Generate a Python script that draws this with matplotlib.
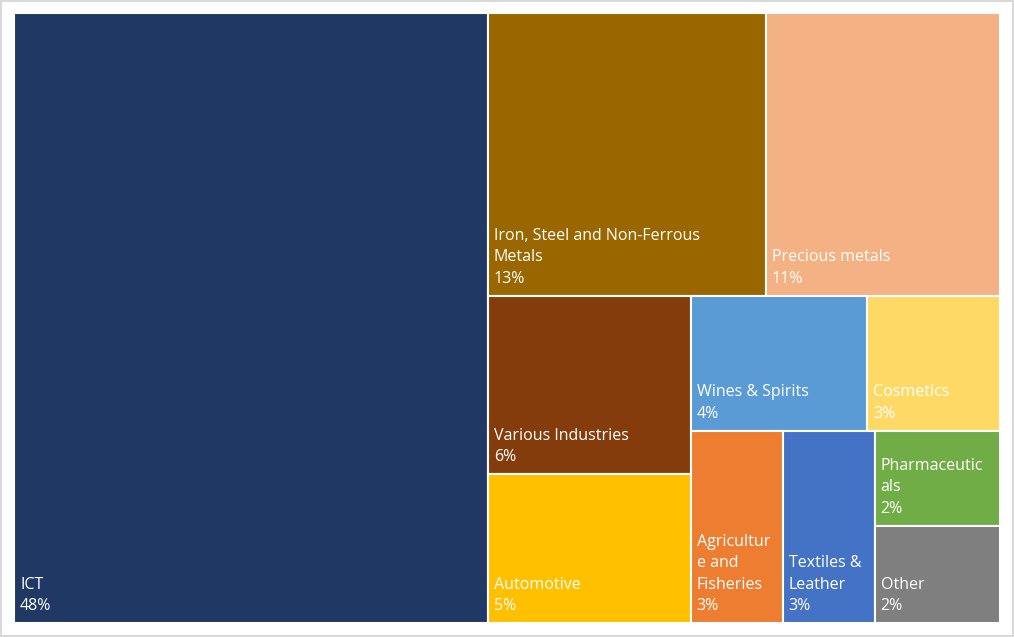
import matplotlib.pyplot as plt
from matplotlib.patches import Rectangle

# sector shares
sectors = ["ICT", "Iron, Steel and Non-Ferrous\nMetals", "Precious metals",
           "Various Industries", "Automotive", "Wines & Spirits", "Cosmetics",
           "Agricultur\ne and\nFisheries", "Textiles &\nLeather",
           "Pharmaceutic\nals", "Other"]
values = [47.4, 12.9, 10.85, 5.95, 4.95, 3.9, 2.95, 2.9, 2.9, 1.95, 2.0]
colors = ["#203864", "#996600", "#F4B183", "#843C0C", "#FFC000", "#5B9BD5",
          "#FFD966", "#ED7D31", "#4472C4", "#70AD47", "#7F7F7F"]

# nesting of the treemap blocks (indices into the lists above)
nesting = [0, [[1, 2], [[3, 4], [[5, 6], [7, 8, [9, 10]]]]]]


def total(node):
    if isinstance(node, list):
        return sum(total(n) for n in node)
    return values[node]


def layout(node, x, y, w, h, out):
    if not isinstance(node, list):
        out[node] = (x, y, w, h)
        return
    s = total(node)
    if w >= h:
        for n in node:
            dw = w * total(n) / s
            layout(n, x, y, dw, h, out)
            x += dw
    else:
        # fill from the top down
        top = y + h
        for n in node:
            dh = h * total(n) / s
            top -= dh
            layout(n, x, top, w, dh, out)


fig = plt.figure(figsize=(10.14, 6.37), dpi=100)
fig.patch.set_edgecolor("#D9D9D9")
fig.patch.set_linewidth(1.5)
ax = fig.add_axes([14 / 1014, 14 / 637, 986 / 1014, 610 / 637])
W, H = 986, 610
ax.set_xlim(0, W)
ax.set_ylim(0, H)
ax.axis("off")

rects = {}
layout(nesting, 0, 0, W, H, rects)
grand = sum(values)

for i, name in enumerate(sectors):
    x, y, w, h = rects[i]
    ax.add_patch(Rectangle((x, y), w, h, facecolor=colors[i],
                           edgecolor="white", linewidth=1.5))
    pct = round(100 * values[i] / grand)
    ax.annotate(f"{name}\n{pct}%", xy=(x, y), xytext=(6, 9),
                textcoords="offset pixels", ha="left", va="bottom",
                color="white", fontsize=11.5, family="Open Sans",
                linespacing=1.45)

fig.savefig("out.png", dpi=100)
